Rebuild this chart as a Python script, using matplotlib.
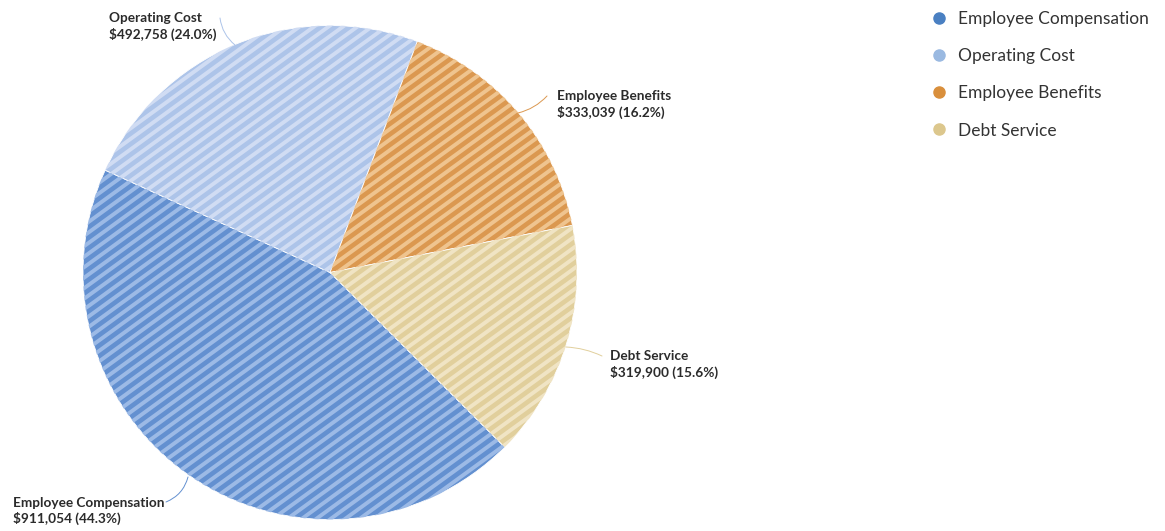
import matplotlib
matplotlib.use("Agg")
import matplotlib.pyplot as plt
import numpy as np
from matplotlib.collections import LineCollection
from matplotlib.lines import Line2D

# Budget breakdown
categories = ["Employee Compensation", "Operating Cost", "Employee Benefits", "Debt Service"]
amounts = [911054, 492758, 333039, 319900]

fill_colors = ["#6390d0", "#adc4e9", "#db9850", "#e1cf9c"]
stripe_colors = ["#9cbae6", "#d0dcf3", "#efc48f", "#f0e4c4"]
legend_colors = ["#4a80c2", "#9ab9e1", "#d98f3c", "#dcc78d"]

W, H = 1165, 531
fig = plt.figure(figsize=(W / 100, H / 100), dpi=100)
cx, cy, R = 330, 272.5, 247
ax = fig.add_axes([(cx - R) / W, (H - cy - R) / H, 2 * R / W, 2 * R / H])

wedges, _ = ax.pie(amounts, colors=fill_colors, startangle=-45, counterclock=False,
                   radius=1, center=(0, 0),
                   wedgeprops=dict(edgecolor="white", linewidth=0.6))
ax.set_xlim(-1, 1)
ax.set_ylim(-1, 1)
ax.axis("off")

# diagonal stripe texture clipped to each wedge
theta = np.deg2rad(36)
d = np.array([np.cos(theta), np.sin(theta)])
n = np.array([-np.sin(theta), np.cos(theta)])
step = 8.5 / R
offs = np.arange(-1.6, 1.6, step)
segs = [[o * n - 1.8 * d, o * n + 1.8 * d] for o in offs]
for w, sc in zip(wedges, stripe_colors):
    lc = LineCollection(segs, colors=sc, linewidths=2.8, capstyle="butt", zorder=2)
    ax.add_collection(lc)
    lc.set_clip_path(w)


def to_data(x, y):
    return ((x - cx) / R, (cy - y) / R)


total = sum(amounts)
label_pos = [(13, 511), (109, 26.5), (557, 104.5), (610, 364.5)]
leaders = [((188, 477), (166, 502), 0.25),
           ((235, 45), (220, 18), 0.2),
           ((518, 113), (547, 96), -0.15),
           ((566, 347), (602, 356), 0.1)]

for cat, val, col, (lx, ly), (p0, p1, rad) in zip(categories, amounts, fill_colors,
                                                   label_pos, leaders):
    pct = val / total * 100
    tx, ty = to_data(lx, ly)
    ax.text(tx, ty, f"{cat}\n${val:,} ({pct:.1f}%)", ha="left", va="center",
            fontsize=9.8, fontweight="bold", family="Lato", color="#2b2b2b",
            linespacing=1.3, clip_on=False)
    ax.annotate("", xy=to_data(*p0), xytext=to_data(*p1), annotation_clip=False,
                arrowprops=dict(arrowstyle="-", color=col, lw=0.7,
                                connectionstyle=f"arc3,rad={rad}",
                                shrinkA=0, shrinkB=0))

handles = [Line2D([], [], marker="o", linestyle="none", markersize=8,
                  markerfacecolor=c, markeredgecolor=c) for c in legend_colors]
fig.legend(handles, categories, loc="upper left", bbox_to_anchor=(922 / W, 1 - 11 / H),
           frameon=False, prop={"family": "Lato", "size": 12.5}, labelcolor="#333333",
           labelspacing=1.22, handletextpad=0.05, borderaxespad=0, borderpad=0)

fig.savefig("out.png", dpi=100)
